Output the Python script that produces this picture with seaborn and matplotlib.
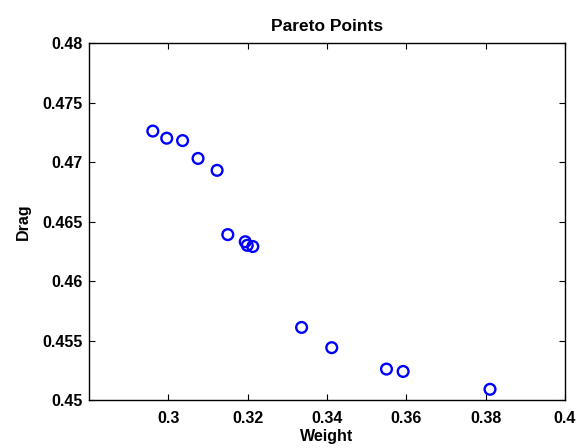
import numpy as np
import pandas as pd
import matplotlib
matplotlib.use('Agg')
import matplotlib.pyplot as plt
import seaborn as sns

# ── Data ──────────────────────────────────────────────────────────────────
weight = [0.2961, 0.2996, 0.3036, 0.3075, 0.3123, 0.3150, 0.3194, 0.3199,
          0.3213, 0.3336, 0.3412, 0.3550, 0.3592, 0.3811]
drag = [0.4726, 0.4720, 0.4718, 0.4703, 0.4693, 0.4639, 0.4633, 0.4630,
        0.4629, 0.4561, 0.4544, 0.4526, 0.4524, 0.4509]
x_ticks = [0.30, 0.32, 0.34, 0.36, 0.38, 0.40]
x_tick_labels = ['0.3', '0.32', '0.34', '0.36', '0.38', '0.4']
y_ticks = [0.45, 0.455, 0.46, 0.465, 0.47, 0.475, 0.48]
y_tick_labels = ['0.45', '0.455', '0.46', '0.465', '0.47', '0.475', '0.48']

df = pd.DataFrame({'Weight': weight, 'Drag': drag})

# ── Style ─────────────────────────────────────────────────────────────────
sns.set_style('white')
plt.rcParams['font.family'] = ['Liberation Sans', 'DejaVu Sans']
plt.rcParams['font.weight'] = 'bold'
plt.rcParams['font.size'] = 11.5
plt.rcParams['text.color'] = 'black'
plt.rcParams['axes.labelcolor'] = 'black'

fig = plt.figure(figsize=(5.8, 4.48), dpi=100)
ax = fig.add_axes([0.1534, 0.1071, 0.8207, 0.7969])

sns.scatterplot(data=df, x='Weight', y='Drag', ax=ax, marker='o', s=60,
                color='blue', facecolor='none', edgecolor='blue', linewidth=1.7)

ax.set_xlim(0.28, 0.40)
ax.set_ylim(0.45, 0.48)
ax.set_xticks(x_ticks)
ax.set_xticklabels(x_tick_labels, fontweight='bold')
ax.set_yticks(y_ticks)
ax.set_yticklabels(y_tick_labels, fontweight='bold')

ax.tick_params(direction='in', length=4, width=0.8, colors='black',
               top=True, right=True, bottom=True, left=True, labelsize=11.5)
ax.tick_params(axis='x', pad=8)
ax.tick_params(axis='y', pad=4.5)
for sp in ax.spines.values():
    sp.set_visible(True)
    sp.set_color('black')
    sp.set_linewidth(1.0)

ax.set_title('Pareto Points', fontweight='bold', fontsize=12.5, pad=8.5, color='black')
ax.set_xlabel('Weight', fontweight='bold', fontsize=11.5, labelpad=2, color='black')
ax.set_ylabel('Drag', fontweight='bold', fontsize=11.5, labelpad=8, color='black')

fig.savefig('out.png', dpi=100, facecolor='white')
plt.close(fig)
